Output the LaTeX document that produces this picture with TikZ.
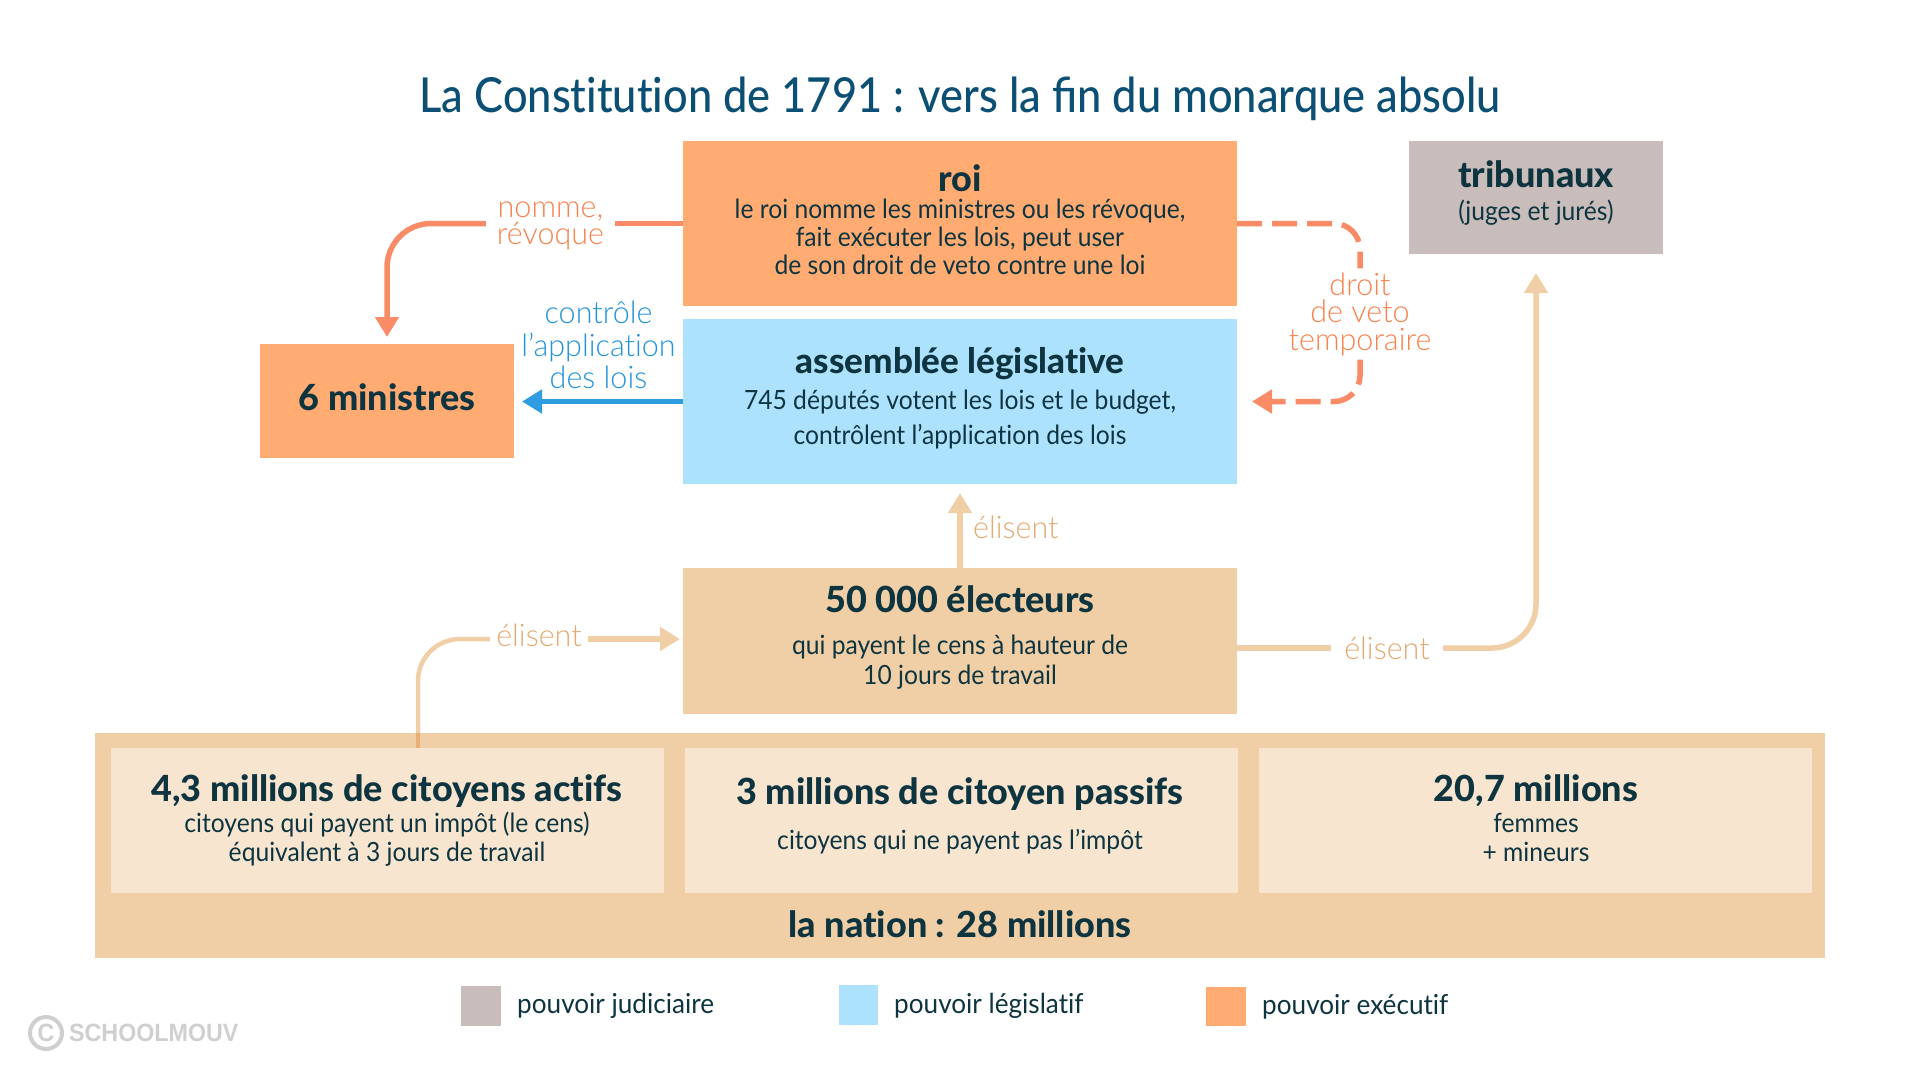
\documentclass[tikz,border=0pt]{standalone}
\usepackage{fontspec}
\setmainfont{Lato}[FakeStretch=0.93,Ligatures=NoCommon]
\newfontfamily\tfont{Lato Medium}[FakeStretch=0.9,Ligatures=NoCommon]
\newfontfamily\hfont{Lato Heavy}[FakeStretch=1.0,Ligatures=NoCommon]
\newfontfamily\lfont{Lato Light}[FakeStretch=0.985,Ligatures=NoCommon]
\newfontfamily\wfont{Liberation Sans}[UprightFont=* Bold,FakeStretch=0.93]
\usetikzlibrary{arrows.meta}
\definecolor{orangeb}{HTML}{FFAB72}
\definecolor{blueb}{HTML}{ADE2FF}
\definecolor{grayb}{HTML}{C8BDBA}
\definecolor{beigeb}{HTML}{F1CFA6}
\definecolor{beigel}{HTML}{F7E5D0}
\definecolor{beiged}{HTML}{E8B074}
\definecolor{inkc}{HTML}{0E3440}
\definecolor{titlec}{HTML}{0B4F74}
\definecolor{salmon}{HTML}{F98C66}
\definecolor{salmont}{HTML}{F9824F}
\definecolor{bluel}{HTML}{2F9BE0}
\definecolor{bluet}{HTML}{2394DC}
\definecolor{beiget}{HTML}{E3AB72}
\definecolor{wmark}{HTML}{CFCFCF}
\tikzset{
  box/.style={inner sep=0,outer sep=0,anchor=north west},
  head/.style={text=inkc,font=\hfont\fontsize{36}{40}\selectfont,anchor=base,inner sep=0},
  body/.style={text=inkc,font=\fontsize{26.5}{30}\selectfont,anchor=base,inner sep=0},
  legend/.style={text=inkc,font=\fontsize{27.5}{30}\selectfont\addfontfeature{FakeStretch=0.95},anchor=base west,inner sep=0},
  lab/.style={align=center,inner ysep=0,inner xsep=0,font=\lfont\fontsize{31}{27.5}\selectfont},
  conn/.style={line width=5.5pt},
  tip/.style={-{Triangle[length=20pt,width=23pt]}},
}
\newcommand{\bx}[6]{\node[box,fill=#2,minimum width=#5 pt-#3 pt,minimum height=#6 pt-#4 pt] (#1) at (#3,#4) {};}
\begin{document}
\begin{tikzpicture}[x=1pt,y=-1pt]
\useasboundingbox (0,0) rectangle (1920,1080);
\fill[white] (0,0) rectangle (1920,1080);
\node[text=titlec,font=\tfont\fontsize{48.2}{52}\selectfont,anchor=base,inner sep=0] (titre) at (960,112.5) {La Constitution de 1791 : vers la ﬁn du monarque absolu};
% boxes
\bx{roi}{orangeb}{683}{141}{1237}{306}
\bx{assemblee}{blueb}{683}{319}{1237}{484}
\bx{tribunaux}{grayb}{1409}{141}{1663}{254}
\bx{ministres}{orangeb}{260}{344}{514}{458}
\bx{electeurs}{beigeb}{683}{568}{1237}{714}
\bx{nation}{beigeb}{95}{733}{1825}{958}
\bx{actifs}{beigel}{111}{747.5}{664}{893}
\bx{passifs}{beigel}{685}{747.5}{1238}{893}
\bx{femmes}{beigel}{1259}{747.5}{1812}{893}
% texts
\node[head] (t1) at (960,191.5) {roi};
\node[body] (t2) at (960,218) {le roi nomme les ministres ou les révoque,};
\node[body] (t3) at (960,246) {fait exécuter les lois, peut user};
\node[body] (t4) at (960,274) {de son droit de veto contre une loi};
\node[head] (t5) at (1536,187.5) {tribunaux};
\node[body] (t6) at (1536,220.5) {(juges et jurés)};
\node[head] (t7) at (387,410.5) {6 ministres};
\node[head,font=\hfont\fontsize{35}{40}\selectfont] (t8) at (960,373) {assemblée législative};
\node[body] (t9) at (960,409.5) {745 députés votent les lois et le budget,};
\node[body] (t10) at (960,444) {contrôlent l’application des lois};
\node[head] (t11) at (960,612.5) {50 000 électeurs};
\node[body] (t12) at (960,654) {qui payent le cens à hauteur de};
\node[body] (t13) at (960,684) {10 jours de travail};
\node[head] (t14) at (387,801) {4,3 millions de citoyens actifs};
\node[body] (t15) at (387,832) {citoyens qui payent un impôt (le cens)};
\node[body] (t16) at (387,861) {équivalent à 3 jours de travail};
\node[head] (t17) at (960,804) {3 millions de citoyen passifs};
\node[body] (t18) at (960,849) {citoyens qui ne payent pas l’impôt};
\node[head] (t19) at (1536,801) {20,7 millions};
\node[body] (t20) at (1536,832) {femmes};
\node[body] (t21) at (1536,861) {+ mineurs};
\node[head] (t22) at (960,937) {la nation : 28 millions};
% legend
\bx{l1}{grayb}{461}{986}{501}{1026}
\bx{l2}{blueb}{839}{985}{878}{1025}
\bx{l3}{orangeb}{1206}{987}{1246}{1026}
\node[legend] (l1t) at (517,1013) {pouvoir judiciaire};
\node[legend] (l2t) at (894,1013) {pouvoir législatif};
\node[legend] (l3t) at (1262,1014) {pouvoir exécutif};
% labels
\node[lab,text=salmont,minimum width=129pt] (nomme) at (550.5,226) {nomme,\\révoque};
\node[lab,text=bluet,font=\lfont\fontsize{31}{32.5}\selectfont] (controle) at (598.5,345) {contrôle\\l’application\\des lois};
\node[lab,text=salmont,minimum height=91pt] (veto) at (1360,314) {droit\\de veto\\temporaire};
\node[lab,text=beiget,anchor=base west] (e2) at (973,538.5) {élisent};
\node[lab,text=beiget,minimum width=98pt] (e1) at (539,635) {élisent};
\node[lab,text=beiget,minimum width=112pt] (e3) at (1387,648) {élisent};
% connectors
\coordinate (d1) at (418,733);
\coordinate (d2) at (418,747.5);
\coordinate (e1y) at (539,639);
\coordinate (e1w) at (e1.west |- e1y);
\coordinate (e1e) at (e1.east |- e1y);
\draw[conn,salmon] (roi.west) -- (roi.west -| nomme.east);
\draw[conn,salmon,tip,rounded corners=44pt,shorten >=7pt] (roi.west -| nomme.west) -| (ministres.north);
\draw[conn,bluel,tip,shorten >=8pt] (assemblee.west) -- (assemblee.west -| ministres.east);
\draw[conn,salmon,dash pattern=on 25pt off 10pt,rounded corners=26pt] (roi.east) -| (veto.north);
\draw[conn,salmon,dash pattern=on 25pt off 10pt,rounded corners=26pt,tip,shorten >=15pt] (veto.south) |- (assemblee.east);
\draw[conn,beigeb,tip,shorten >=9pt] (electeurs.north) -- (assemblee.south);
\draw[line width=4.5pt,beigeb,rounded corners=42pt] (d1) |- (e1w);
\draw[line width=4.5pt,beiged] (d1) -- (d2);
\draw[conn,beigeb,tip,shorten >=3pt] (e1e) -- (e1e -| electeurs.west);
\draw[conn,beigeb] (electeurs.east |- e3.west) -- (e3.west);
\draw[conn,beigeb,tip,rounded corners=44pt,shorten >=19pt] (e3.east) -| (tribunaux.south);
% watermark
\node[draw=wmark,line width=4pt,circle,minimum size=32pt,inner sep=0,text=wmark,font=\wfont\fontsize{25}{25}\selectfont] (cc) at (46,1033) {C};
\node[text=wmark,font=\wfont\fontsize{25}{25}\selectfont,anchor=west,inner sep=0] (sm) at (69,1033) {SCHOOLMOUV};
\end{tikzpicture}
\end{document}
